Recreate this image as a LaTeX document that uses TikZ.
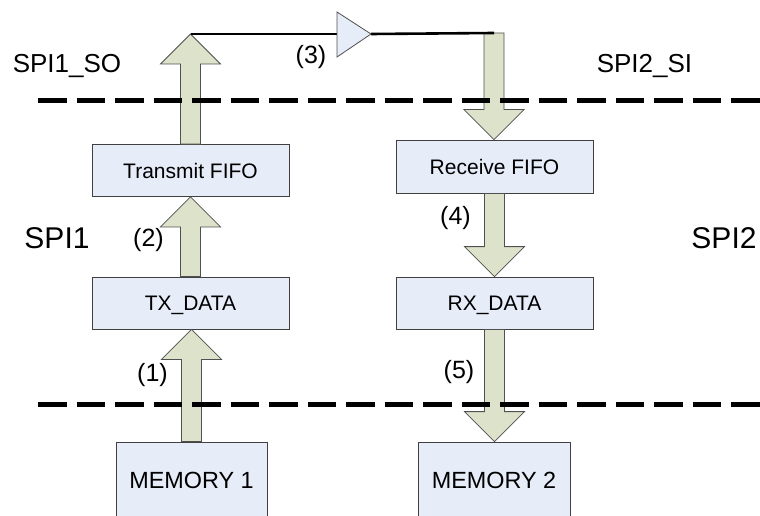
\documentclass[tikz,border=0pt]{standalone}
\usepackage{fontspec}
\setmainfont{Liberation Sans}
\usetikzlibrary{calc}
\definecolor{boxfill}{RGB}{230,236,248}
\definecolor{boxline}{RGB}{64,64,64}
\definecolor{arrfill}{RGB}{221,226,203}
\definecolor{arrline}{RGB}{80,80,80}
\newcommand{\fsz}[1]{\fontsize{#1}{#1}\selectfont}
\tikzset{
 blk/.style={draw=boxline, fill=boxfill, line width=0.8pt, inner sep=0pt, text depth=0pt, font=\fsz{21}, minimum width=197pt, minimum height=52pt},
 memblk/.style={blk, font=\fsz{23.4}, minimum height=76pt},
 barrow/.style={draw=arrline, fill=arrfill, line width=0.8pt, line join=miter},
 wire/.style={line width=2.6pt, black},
 bufstyle/.style={draw=arrline, fill=boxfill, line width=0.8pt},
 dashline/.style={line width=5pt, dash pattern=on 28.5pt off 10pt},
 lbl/.style={anchor=base, inner sep=0pt},
}
\newcommand{\uparr}[2]{\path[barrow] let \p1=(#1), \p2=(#2) in (\x1-10pt,\y1) -- (\x1-10pt,\y2-30pt) -- (\x1-30pt,\y2-30pt) -- (\x1,\y2) -- (\x1+30pt,\y2-30pt) -- (\x1+10pt,\y2-30pt) -- (\x1+10pt,\y1) -- cycle;}
\newcommand{\downarr}[2]{\path[barrow] let \p1=(#1), \p2=(#2) in (\x1-10pt,\y1) -- (\x1-10pt,\y2+30pt) -- (\x1-30pt,\y2+30pt) -- (\x1,\y2) -- (\x1+30pt,\y2+30pt) -- (\x1+10pt,\y2+30pt) -- (\x1+10pt,\y1) -- cycle;}
\begin{document}
\begin{tikzpicture}[x=1pt,y=-1pt]
\clip (0,0) rectangle (760,516);
\fill[white] (0,0) rectangle (760,516);
% boxes
\node[blk] (tfifo) at (190.5,170.5) {Transmit FIFO};
\node[blk] (txdata) at (190.5,303) {TX\_DATA};
\node[memblk, minimum width=151pt] (mem1) at (191.5,480) {MEMORY 1};
\node[blk, minimum height=53pt] (rfifo) at (494.5,166.5) {Receive FIFO};
\node[blk] (rxdata) at (494.5,303) {RX\_DATA};
\node[memblk, minimum width=152pt] (mem2) at (494,480) {MEMORY 2};
% wire ends
\coordinate (so) at (191,34);
\coordinate (si) at (494,33);
\coordinate (bufin) at (337,34);
\coordinate (bufout) at (371,34);
% block arrows
\uparr{mem1.north}{txdata.south}
\uparr{txdata.north}{tfifo.south}
\uparr{tfifo.north}{so}
\downarr{si}{rfifo.north}
\downarr{rfifo.south}{rxdata.north}
\downarr{rxdata.south}{mem2.north}
% wire and buffer
\draw[wire] (so) -- (bufin);
\draw[wire] (bufout) -- (si);
\draw[bufstyle] (337,12) -- (bufout) -- (337,57) -- cycle;
% dashed boundaries
\draw[dashline] (38,101) -- (762,101);
\draw[dashline] (38,404) -- (762,404);
% labels
\node[lbl, font=\fsz{26}] (lso) at (67,73) {SPI1\_SO};
\node[lbl, font=\fsz{26}] (lsi) at (644.5,73) {SPI2\_SI};
\node[lbl, font=\fsz{30}] (lspi1) at (57,248) {SPI1};
\node[lbl, font=\fsz{30}] (lspi2) at (724,248) {SPI2};
\node[lbl, font=\fsz{25}] (l1) at (152.5,381) {(1)};
\node[lbl, font=\fsz{25}] (l2) at (148.5,246) {(2)};
\node[lbl, font=\fsz{25}] (l3) at (311,63.5) {(3)};
\node[lbl, font=\fsz{25}] (l4) at (455.5,224) {(4)};
\node[lbl, font=\fsz{25}] (l5) at (459,378) {(5)};
\end{tikzpicture}
\end{document}
